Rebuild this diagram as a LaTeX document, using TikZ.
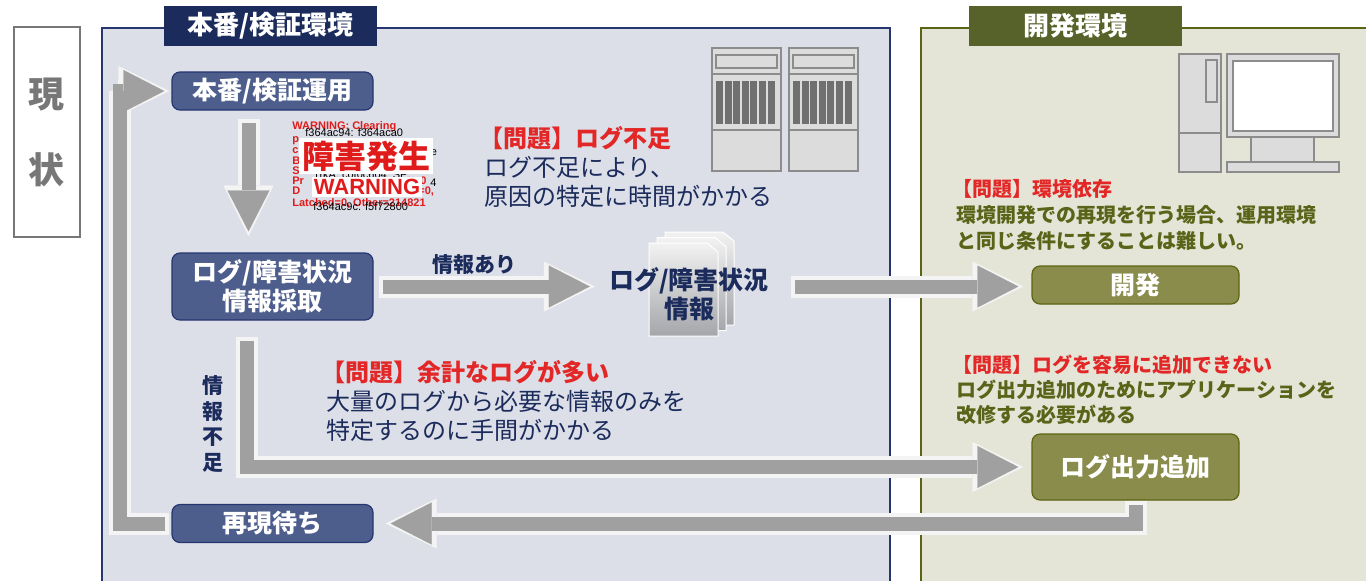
\documentclass[tikz,border=0pt]{standalone}
\usepackage{fontspec}
\setmainfont{Noto Sans CJK JP}
\newfontfamily\latinfont{Liberation Sans}
\usetikzlibrary{arrows.meta,calc}

\definecolor{navy}{HTML}{1B2B5B}
\definecolor{bluebox}{HTML}{4D5E8D}
\definecolor{blueline}{HTML}{263670}
\definecolor{bluepanel}{HTML}{DCDFE8}
\definecolor{olivetab}{HTML}{566229}
\definecolor{olivebox}{HTML}{8A8C4B}
\definecolor{oliveline}{HTML}{5B6414}
\definecolor{olivepanel}{HTML}{E5E5D7}
\definecolor{olivetext}{HTML}{5A6419}
\definecolor{probred}{HTML}{E32626}
\definecolor{warnred}{HTML}{E01B1B}
\definecolor{arrowgray}{HTML}{A0A0A0}
\definecolor{arrowrim}{HTML}{F4F4F4}
\definecolor{icongray}{HTML}{DCDCDC}
\definecolor{iconline}{HTML}{8C8C8C}
\definecolor{ventgray}{HTML}{707070}
\definecolor{framegray}{HTML}{777777}
\definecolor{doctop}{HTML}{F2F2F2}
\definecolor{docbot}{HTML}{A4A6AA}

\newcommand{\setfs}[2]{\fontsize{#1}{#2}\selectfont}
% heading with the wide bracket pulled back to the text edge
\newcommand{\probhead}[1]{\kern-0.2em{\color{probred}\bfseries #1}}

\begin{document}
\begin{tikzpicture}[
    x=0.5pt, y=-0.5pt,
    bluestep/.style={rectangle, rounded corners=4pt, draw=blueline, line width=0.6pt, fill=bluebox, text=white, font=\bfseries\setfs{12.5}{14.5}, minimum width=100.5pt, minimum height=19pt, align=center, inner sep=0pt},
    olivestep/.style={bluestep, draw=oliveline, fill=olivebox, minimum width=103.5pt},
    tab/.style={rectangle, text=white, font=\bfseries\setfs{13}{15}, minimum width=106.5pt, minimum height=20pt, inner sep=0pt},
    problem/.style={anchor=north west, align=left, inner sep=0pt},
    fat/.style={line join=miter,
        preaction={draw=arrowrim, line width=11pt, line join=miter, shorten <=-2pt, shorten >=-2.5pt, -{Triangle[length=25.5pt, width=25pt, line width=0.1pt]}},
        draw=arrowgray, line width=7pt, -{Triangle[length=20.5pt, width=21pt, line width=0.1pt]}},
    icon/.style={fill=icongray, draw=iconline, line width=0.75pt},
    warnsmall/.style={anchor=west, inner sep=0pt, text=warnred, font=\latinfont\bfseries\setfs{5.5}{6}},
    warndark/.style={anchor=west, inner sep=0pt, text=black, font=\latinfont\setfs{5.5}{6}}
  ]
  \useasboundingbox[fill=white] (0,0) rectangle (1366,580);

  % side label
  \draw[framegray, line width=1pt] (14,27) rectangle (80,237);
  \node[text=framegray, font=\bfseries\setfs{18}{20}] (now1) at (46,95) {現};
  \node[text=framegray, font=\bfseries\setfs{18}{20}] (now2) at (46,170) {状};

  % panels
  \draw[fill=bluepanel, draw=blueline, line width=0.6pt] (102,28) rectangle (890,590);
  \draw[fill=olivepanel, draw=oliveline, line width=0.6pt] (921,28) rectangle (1372,590);
  \node[tab, fill=navy] (prodtab) at (270.5,26) {本番/検証環境};
  \node[tab, fill=olivetab] (devtab) at (1075.5,26) {開発環境};

  % server racks
  \foreach \sx in {712,789} {
    \draw[icon] (\sx,48) rectangle ++(69,123);
    \draw[icon] (\sx,74) -- ++(69,0);
    \draw[icon] (\sx,130) -- ++(69,0);
    \draw[icon] (\sx+4,55) rectangle ++(61,13);
    \foreach \k in {0,...,6}
      \fill[ventgray] (\sx+4+\k*8.6,81) rectangle ++(7,43);
  }

  % desktop pc
  \draw[icon] (1179,54) rectangle (1221,172);
  \draw[icon] (1179,133) -- (1221,133);
  \draw[icon] (1206,60) rectangle (1217,102);
  \draw[icon] (1227,54) rectangle (1339,137);
  \draw[icon, fill=white] (1233,61) rectangle (1333,131);
  \draw[icon] (1251,137) rectangle (1314,162);
  \draw[icon] (1227,162) rectangle (1339,172);

  % log dump
  \node[warnsmall] (w1) at (292,127) {WARNING: Clearing};
  \node[warndark] (d1) at (305,133) {f364ac94: f364aca0};
  \foreach \ty/\tx in {141/p, 151/c, 161/B, 171/S, 181/Pr, 191/D}
    \node[warnsmall] at (292,\ty) {\tx};
  \node[warndark] (d2) at (428,152) {le};
  \node[warndark] (d3) at (313,175) {1rkA: c0f0c604\ \ SP:};
  \node[warndark] (d4) at (315,183) {f3};
  \node[warndark] (d5) at (430,183) {4};
  \node[warnsmall] (w2) at (420,181) {0};
  \node[warnsmall] (w3) at (418,192) {=0,};
  \node[warnsmall] (w4) at (292,203) {Latched=0,\ Other=214821};
  \node[warndark] (d6) at (313,207) {f364ac9c: f5f72800};
  \node[fill=white, text=warnred, font=\bfseries\setfs{16}{18}, inner sep=1.5pt] (fault) at (366,156) {障害発生};
  \node[fill=white, text=warnred, font=\latinfont\bfseries\setfs{11}{12}, inner sep=1pt] (warn) at (367,187) {WARNING};

  % document stack
  \foreach \dx/\dy in {16/11, 8/5.5, 0/0}
    \path[top color=doctop, bottom color=docbot, draw=white, line width=0.5pt]
      (649+\dx,243-\dy) -- ++(58,0) -- ++(11,9) -- ++(0,84) -- ++(-69,0) -- cycle;
  \node[text=navy, font=\bfseries\setfs{12.5}{14.5}, align=center, inner sep=0pt] (info) at (689,294) {ログ/障害状況\\情報};

  % steps
  \node[bluestep] (ops) at (272.5,91) {本番/検証運用};
  \node[bluestep, minimum height=33.5pt] (logget) at (272.5,286.5) {ログ/障害状況\\情報採取};
  \node[bluestep] (wait) at (272.5,523.5) {再現待ち};
  \node[olivestep] (dev) at (1135.5,285) {開発};
  \node[olivestep, minimum height=33pt] (addlog) at (1135.5,467) {ログ出力追加};

  % problems
  \node[problem, text=navy, font=\setfs{12}{14.5}] (lack) at (484,126)
    {\probhead{【問題】ログ不足}\\ログ不足により、\\原因の特定に時間がかかる};
  \node[problem, text=navy, font=\setfs{12}{14.5}] (toomany) at (326,360)
    {\probhead{【問題】余計なログが多い}\\大量のログから必要な情報のみを\\特定するのに手間がかかる};
  \node[problem, text=olivetext, font=\bfseries\setfs{10}{13}] (envdep) at (956,179)
    {\probhead{【問題】環境依存}\\環境開発での再現を行う場合、運用環境\\と同じ条件にすることは難しい。};
  \node[problem, text=olivetext, font=\bfseries\setfs{10}{12.5}] (hardadd) at (956,355)
    {\probhead{【問題】ログを容易に追加できない}\\ログ出力追加のためにアプリケーションを\\改修する必要がある};

  % flow
  \draw[fat] ($(ops.south)+(-24,12)$) -- ($(logget.north)+(-24,-21)$);
  \draw[fat] ($(logget.east)+(9,0)$) -- ($(info.west |- logget.east)+(-19,0)$);
  \draw[fat] ($(info.east |- logget.east)+(26,0)$) -- ($(dev.west |- logget.east)+(-13,0)$);
  \draw[fat] ($(logget.south)+(-25.5,20)$) |- ($(addlog.west)+(-13,0)$);
  \draw[fat] ($(addlog.south)+(0,4)$) |- ($(wait.east)+(17,0)$);
  \draw[fat] ($(wait.west)+(-6,0)$) -- ++(-45,0) |- ($(ops.west)+(-7,0)$);

  \node[text=navy, font=\bfseries\setfs{10.5}{12}] (have) at (474,265) {情報あり};
  \node[text=navy, font=\bfseries\setfs{10.5}{12.8}, align=center] (short) at (213,424) {情\\報\\不\\足};
\end{tikzpicture}
\end{document}
